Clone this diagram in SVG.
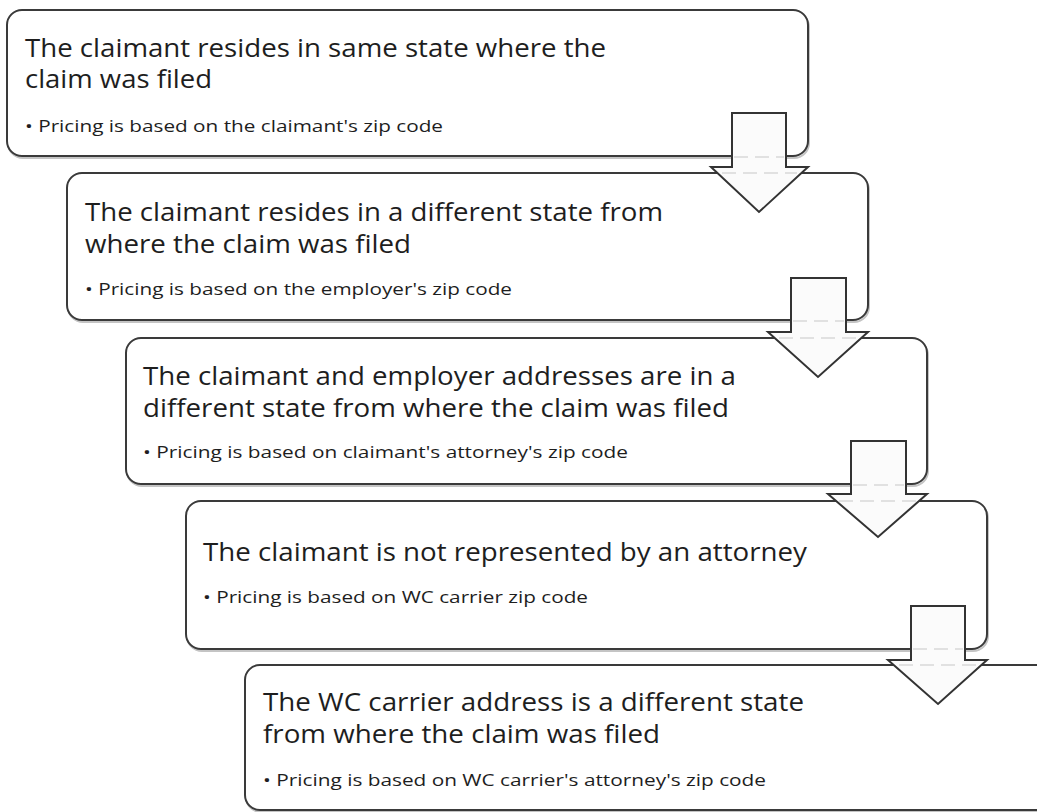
<svg xmlns="http://www.w3.org/2000/svg" width="1037" height="812" viewBox="0 0 1037 812">
<style>
.box{fill:#ffffff;stroke:#3a3a3a;stroke-width:2}
.shadow{fill:none;stroke:#c4c4c4;stroke-width:2}
.title{font-family:"Open Sans","Noto Sans",sans-serif;font-size:25.5px;fill:#1e1e1e}
.bullet{font-family:"Open Sans","Noto Sans",sans-serif;font-size:17px;fill:#1e1e1e}
.arrow{fill:#fbfbfb;stroke:#333333;stroke-width:2;stroke-linejoin:miter}
.ghost{stroke:#d9d9d9;stroke-width:1.5;stroke-dasharray:14 7;fill:none}
</style>
<rect width="1037" height="812" fill="#ffffff"/>
<g id="node1">
<rect class="shadow" x="8" y="12" width="801" height="146" rx="15"/>
<rect class="box" x="7" y="10" width="801" height="146" rx="15"/>
<text class="title" x="25" y="57" textLength="581" lengthAdjust="spacingAndGlyphs">The claimant resides in same state where the</text>
<text class="title" x="25" y="88" textLength="187" lengthAdjust="spacingAndGlyphs">claim was filed</text>
<text class="bullet" x="25" y="132" textLength="418" lengthAdjust="spacingAndGlyphs">• Pricing is based on the claimant's zip code</text>
</g>
<g id="node2">
<rect class="shadow" x="68" y="175" width="801" height="147" rx="15"/>
<rect class="box" x="67" y="173" width="801" height="147" rx="15"/>
<text class="title" x="85" y="221" textLength="578" lengthAdjust="spacingAndGlyphs">The claimant resides in a different state from</text>
<text class="title" x="85" y="253" textLength="326" lengthAdjust="spacingAndGlyphs">where the claim was filed</text>
<text class="bullet" x="85" y="295" textLength="427" lengthAdjust="spacingAndGlyphs">• Pricing is based on the employer's zip code</text>
</g>
<g id="node3">
<rect class="shadow" x="127" y="340" width="801" height="146" rx="15"/>
<rect class="box" x="126" y="338" width="801" height="146" rx="15"/>
<text class="title" x="143" y="385" textLength="593" lengthAdjust="spacingAndGlyphs">The claimant and employer addresses are in a</text>
<text class="title" x="143" y="417" textLength="586" lengthAdjust="spacingAndGlyphs">different state from where the claim was filed</text>
<text class="bullet" x="143" y="458" textLength="485" lengthAdjust="spacingAndGlyphs">• Pricing is based on claimant's attorney's zip code</text>
</g>
<g id="node4">
<rect class="shadow" x="187" y="503" width="801" height="148" rx="15"/>
<rect class="box" x="186" y="501" width="801" height="148" rx="15"/>
<text class="title" x="203" y="561" textLength="604" lengthAdjust="spacingAndGlyphs">The claimant is not represented by an attorney</text>
<text class="bullet" x="203" y="603" textLength="385" lengthAdjust="spacingAndGlyphs">• Pricing is based on WC carrier zip code</text>
</g>
<g id="node5">
<rect class="shadow" x="246" y="667" width="820" height="145" rx="15"/>
<rect class="box" x="245" y="665" width="820" height="145" rx="15"/>
<text class="title" x="263" y="711" textLength="541" lengthAdjust="spacingAndGlyphs">The WC carrier address is a different state</text>
<text class="title" x="263" y="743" textLength="397" lengthAdjust="spacingAndGlyphs">from where the claim was filed</text>
<text class="bullet" x="263" y="786" textLength="503" lengthAdjust="spacingAndGlyphs">• Pricing is based on WC carrier's attorney's zip code</text>
</g>
<g id="connectors">
<g id="arrow1">
<polygon class="arrow" points="732,113 786,113 786,167 808,167 759,212 711,167 732,167"/>
<line class="ghost" x1="734" y1="157" x2="784" y2="157"/>
<line class="ghost" x1="722" y1="173" x2="797" y2="173"/>
</g>
<g id="arrow2">
<polygon class="arrow" points="791,278 846,278 846,332 868,332 818,377 768,332 791,332"/>
<line class="ghost" x1="793" y1="321" x2="844" y2="321"/>
<line class="ghost" x1="779" y1="338" x2="857" y2="338"/>
</g>
<g id="arrow3">
<polygon class="arrow" points="851,441 906,441 906,494 927,494 878,537 828,494 851,494"/>
<line class="ghost" x1="853" y1="485" x2="904" y2="485"/>
<line class="ghost" x1="839" y1="501" x2="917" y2="501"/>
</g>
<g id="arrow4">
<polygon class="arrow" points="911,606 965,606 965,660 987,660 938,704 888,660 911,660"/>
<line class="ghost" x1="913" y1="649" x2="963" y2="649"/>
<line class="ghost" x1="899" y1="665" x2="977" y2="665"/>
</g>
</g>
</svg>
